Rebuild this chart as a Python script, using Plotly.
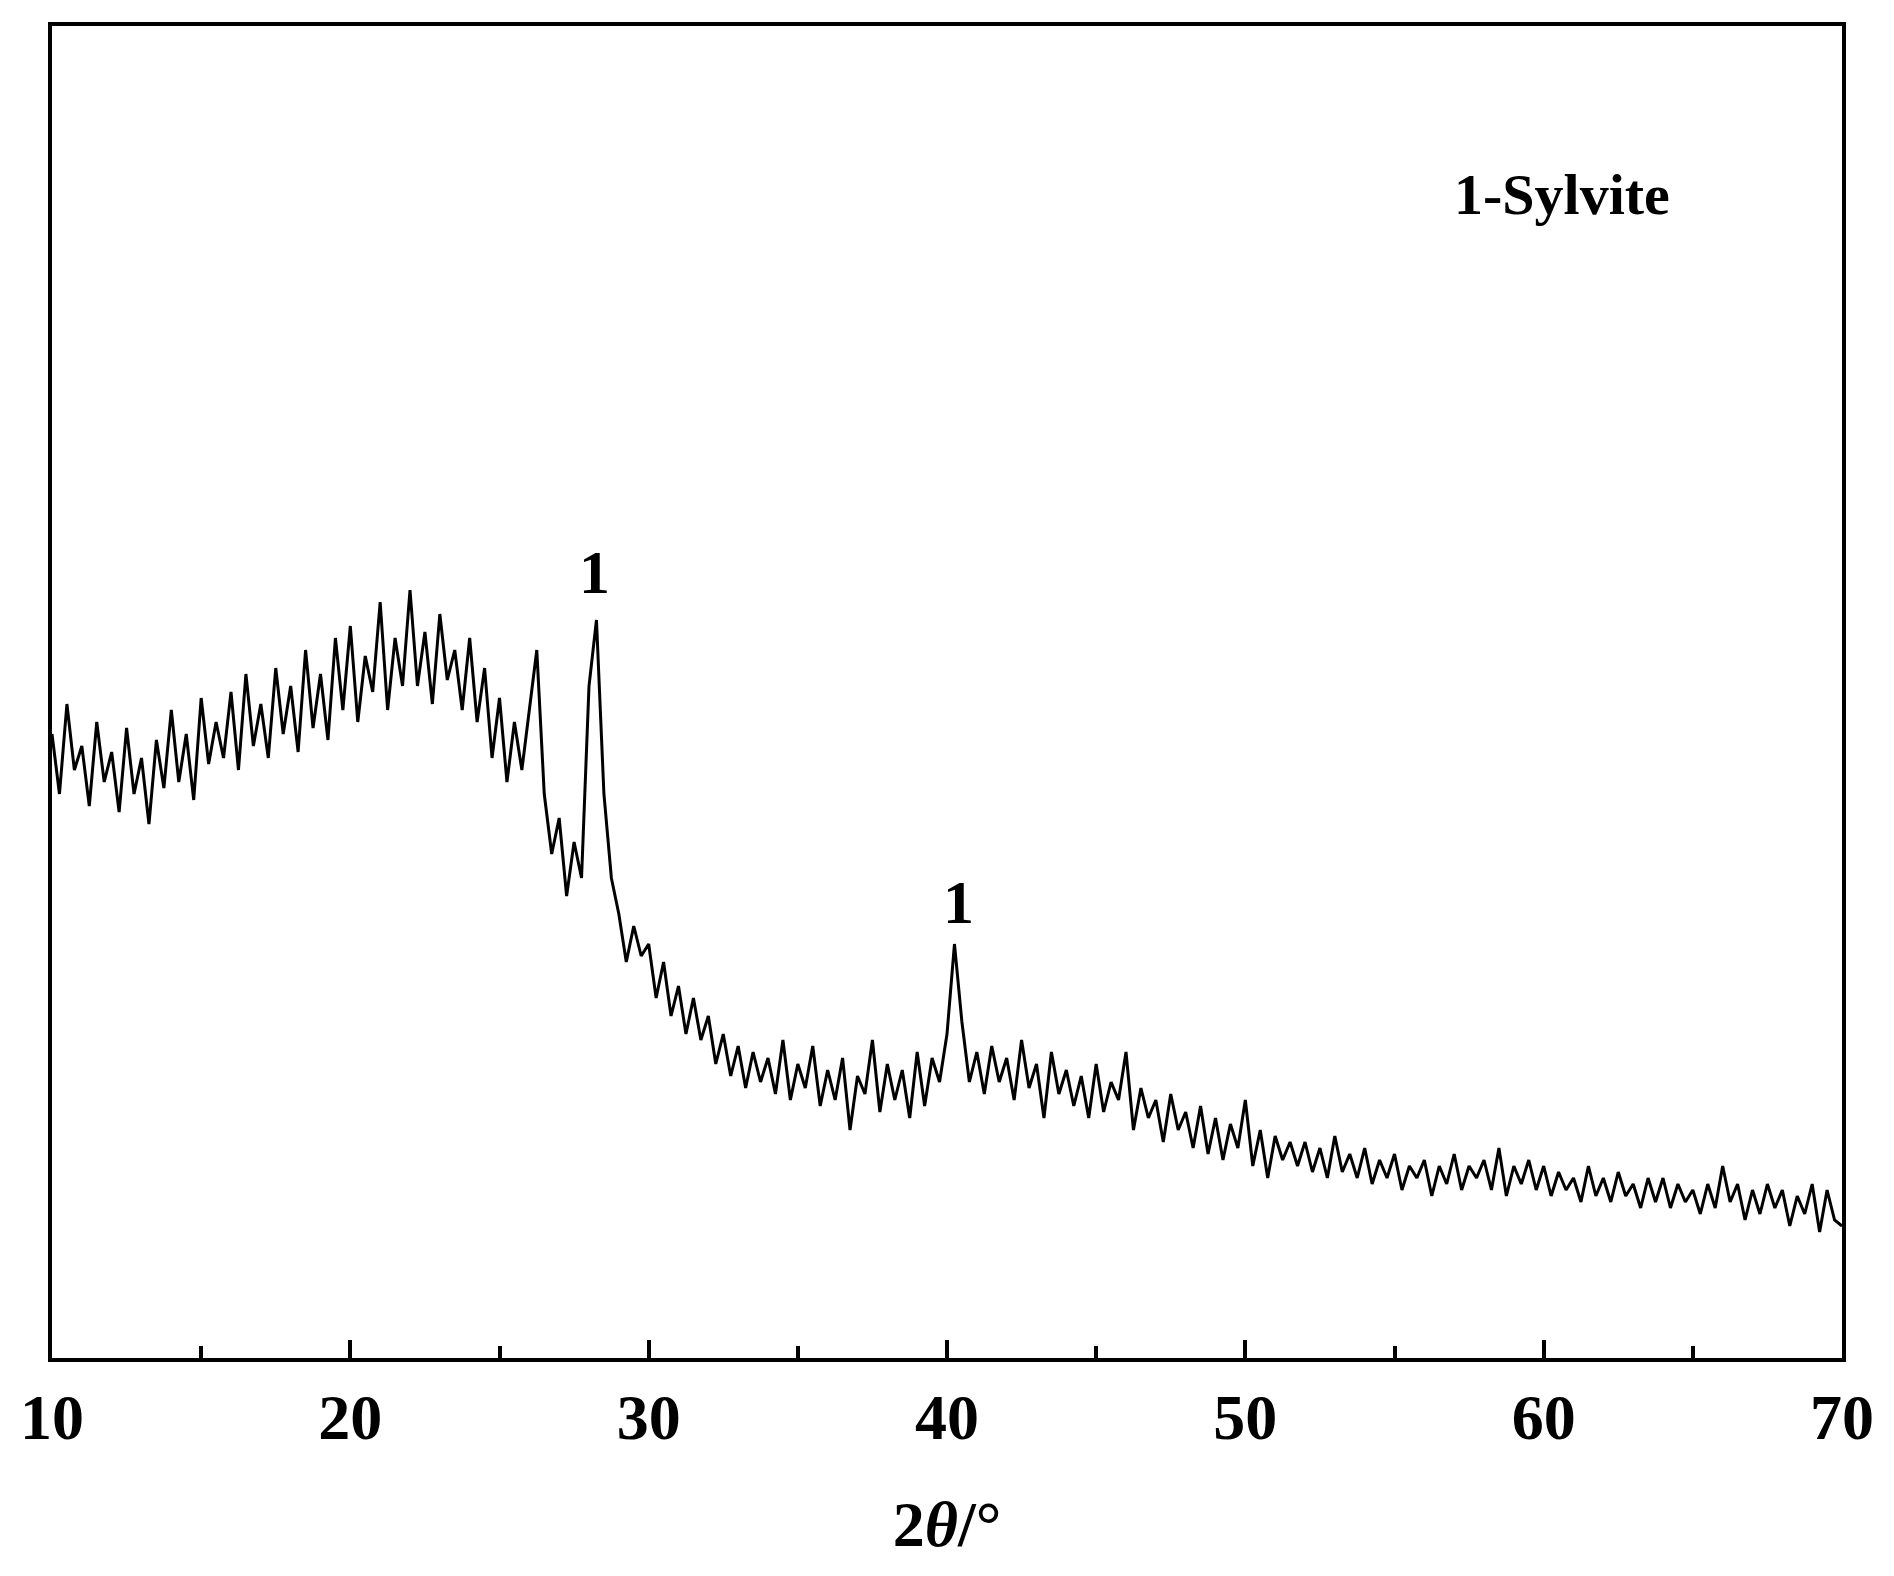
import plotly.graph_objects as go

# XRD pattern, 0.25 degree steps from 10 to 70
two_theta = [10 + 0.25 * i for i in range(241)]
intensity = [
    520, 470, 545, 490, 510, 460, 530, 480,
    505, 455, 525, 470, 500, 445, 515, 475,
    540, 480, 520, 465, 550, 495, 530, 500,
    555, 490, 570, 510, 545, 500, 575, 520,
    560, 505, 590, 525, 570, 515, 600, 540,
    610, 530, 585, 555, 630, 540, 600, 560,
    640, 560, 605, 545, 620, 565, 590, 540,
    600, 530, 575, 500, 550, 480, 530, 490,
    540, 590, 470, 420, 450, 385, 430, 400,
    560, 615, 470, 400, 370, 330, 360, 335,
    345, 300, 330, 285, 310, 270, 300, 265,
    285, 245, 270, 235, 260, 225, 255, 230,
    250, 220, 265, 215, 245, 225, 260, 210,
    240, 215, 250, 190, 235, 220, 265, 205,
    245, 215, 240, 200, 255, 210, 250, 230,
    270, 345, 280, 230, 255, 220, 260, 230,
    250, 215, 265, 225, 245, 200, 255, 220,
    240, 210, 235, 200, 245, 205, 230, 215,
    255, 190, 225, 200, 215, 180, 220, 190,
    205, 175, 210, 170, 200, 165, 195, 175,
    215, 160, 190, 150, 185, 165, 180, 160,
    180, 155, 175, 150, 185, 155, 170, 150,
    175, 145, 165, 150, 170, 140, 160, 150,
    165, 135, 160, 145, 170, 140, 160, 150,
    165, 140, 175, 135, 160, 145, 165, 140,
    160, 135, 155, 140, 150, 130, 160, 135,
    150, 130, 155, 135, 145, 125, 150, 130,
    150, 125, 145, 130, 140, 120, 145, 125,
    160, 130, 145, 115, 140, 120, 145, 125,
    140, 110, 135, 120, 145, 105, 140, 115,
    110,
]

peak_x = [28.2, 40.4]
peak_y = [655, 380]
peak_labels = ["1", "1"]

FONT = "Liberation Serif"

fig = go.Figure()
fig.add_trace(go.Scatter(x=two_theta, y=intensity, mode="lines",
                         line=dict(color="black", width=3), showlegend=False))

for px_, py_, lab in zip(peak_x, peak_y, peak_labels):
    fig.add_annotation(x=px_, y=py_, text=f"<b>{lab}</b>", showarrow=False,
                       font=dict(family=FONT, size=62, color="black"))
fig.add_annotation(x=60.6, y=970, text="<b>1-Sylvite</b>", showarrow=False,
                   font=dict(family=FONT, size=58, color="black"))

fig.update_layout(
    width=1894, height=1576,
    paper_bgcolor="white", plot_bgcolor="white",
    margin=dict(l=42, r=60, t=18, b=226),
    font=dict(family=FONT, color="black"),
)
fig.update_xaxes(
    range=[10, 70], tickvals=[10, 20, 30, 40, 50, 60, 70],
    ticks="inside", ticklen=18, tickwidth=4, tickcolor="black",
    minor=dict(ticks="inside", tickvals=[15, 25, 35, 45, 55, 65],
               ticklen=12, tickwidth=4, tickcolor="black"),
    showline=True, linecolor="black", linewidth=4, mirror=True,
    showgrid=False, zeroline=False,
    tickfont=dict(family=FONT, size=64, color="black", weight="bold"),
    title=dict(text="<b>2<i>θ</i>/°</b>", font=dict(family=FONT, size=64),
               standoff=50),
)
fig.update_yaxes(
    range=[0, 1110], showticklabels=False, ticks="",
    showline=True, linecolor="black", linewidth=4, mirror=True,
    showgrid=False, zeroline=False,
)

fig.write_html("out.html")
